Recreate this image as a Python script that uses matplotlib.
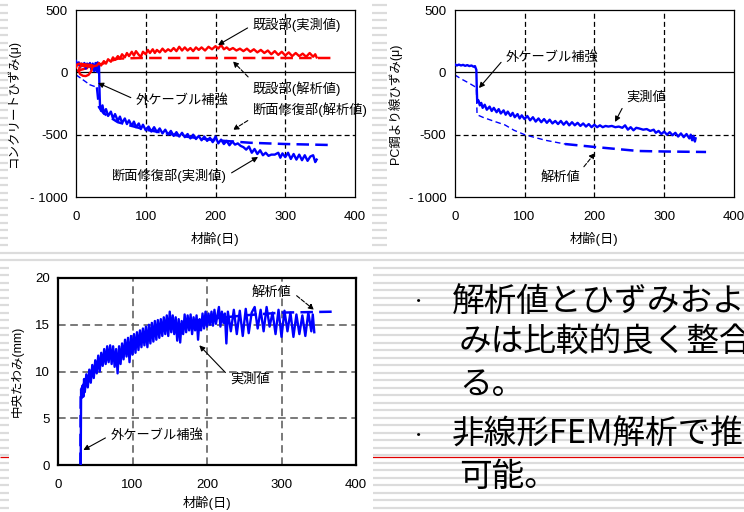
import numpy as np
import matplotlib
matplotlib.use("Agg")
import matplotlib.pyplot as plt
from matplotlib.patches import Rectangle

plt.rcParams['font.family'] = ['Liberation Sans', 'Noto Sans CJK JP']
plt.rcParams['axes.unicode_minus'] = False

BLUE = '#0000ff'
RED = '#ff0000'

# ---- 上左: コンクリートひずみ (day, μ)
existing_meas = [(0, 40), (2, 65), (5, 70), (10, 66), (15, 62), (20, 60), (24, 55), (22, 10), (18, -20),
                 (14, -30), (10, -28), (6, -15), (4, 10), (5, 40), (8, 55), (12, 50), (20, 45), (26, 50),
                 (30, 55), (33, 75), (36, 55), (40, 90), (43, 70), (46, 105), (50, 85), (53, 120), (56, 100),
                 (60, 130), (63, 110), (66, 145), (70, 120), (73, 155), (76, 130), (80, 165), (83, 135),
                 (86, 170), (90, 140), (93, 125), (96, 165), (100, 145), (103, 180), (106, 155), (110, 185),
                 (113, 155), (116, 180), (120, 160), (124, 190), (128, 165), (132, 185), (136, 170),
                 (140, 195), (144, 170), (148, 205), (152, 175), (156, 200), (160, 175), (164, 195),
                 (168, 170), (172, 200), (176, 180), (180, 200), (185, 175), (190, 205), (195, 185),
                 (200, 210), (204, 190), (208, 220), (212, 185), (216, 200), (220, 180), (225, 195),
                 (230, 175), (235, 190), (240, 170), (245, 190), (250, 165), (255, 185), (260, 160),
                 (265, 180), (270, 155), (275, 175), (280, 145), (285, 170), (290, 140), (295, 165),
                 (300, 135), (305, 160), (310, 130), (315, 155), (320, 130), (325, 150), (330, 125),
                 (335, 155), (340, 125), (343, 145), (345, 120)]
existing_calc = [(0, 10), (33, 60), (60, 110), (90, 115), (365, 115)]
repair_meas = [(0, 90), (2, 60), (4, 80), (6, 40), (8, 70), (10, 50), (12, 75), (14, 30), (16, 70), (18, 45),
               (20, 75), (22, 20), (24, 70), (26, 10), (28, 75), (30, 5), (31, 80), (32, 0), (33, 60),
               (33.5, -100), (34, -200), (34.5, -280), (36, -310), (38, -265), (40, -330), (43, -295),
               (46, -350), (50, -315), (53, -370), (56, -335), (60, -390), (63, -355), (66, -405),
               (70, -370), (73, -415), (76, -385), (80, -430), (83, -395), (86, -440), (90, -410),
               (93, -455), (96, -420), (100, -465), (104, -435), (108, -475), (112, -440), (116, -480),
               (120, -450), (124, -490), (128, -460), (132, -500), (136, -470), (140, -510), (144, -480),
               (148, -515), (152, -485), (156, -520), (160, -495), (164, -530), (168, -500), (172, -535),
               (176, -510), (180, -545), (184, -515), (188, -550), (192, -525), (196, -560), (200, -515),
               (204, -570), (208, -540), (212, -575), (216, -550), (220, -585), (224, -555), (228, -580),
               (232, -570), (236, -590), (240, -600), (244, -620), (248, -595), (252, -645), (256, -615),
               (260, -655), (264, -625), (268, -665), (272, -645), (276, -670), (280, -660), (285, -660),
               (290, -645), (293, -685), (296, -650), (300, -680), (304, -645), (308, -695), (312, -655),
               (316, -700), (320, -660), (324, -705), (328, -665), (332, -710), (336, -675), (340, -665),
               (343, -720), (345, -700)]
repair_calc = [(0, -20), (10, -60), (20, -100), (30, -120), (33, -280), (40, -330), (60, -400), (100, -460),
               (150, -510), (200, -545), (250, -565), (300, -575), (365, -583)]

# ---- 上右: PC鋼より線ひずみ (day, μ)
strand_meas = [(0, 65), (3, 55), (6, 62), (9, 55), (12, 60), (15, 52), (18, 58), (21, 50), (24, 55), (27, 45),
               (29, 50), (30, 35), (31, 20), (31.5, -100), (32, -200), (32.5, -240), (34, -225), (36, -265),
               (38, -245), (40, -285), (43, -260), (46, -300), (50, -275), (53, -310), (56, -285), (60, -320),
               (63, -295), (66, -330), (70, -305), (73, -340), (76, -315), (80, -350), (83, -325), (86, -360),
               (90, -335), (93, -370), (96, -345), (100, -375), (104, -350), (108, -385), (112, -360),
               (116, -395), (120, -370), (124, -400), (128, -375), (132, -405), (136, -380), (140, -410),
               (144, -390), (148, -415), (152, -390), (156, -420), (160, -395), (164, -425), (168, -400),
               (172, -425), (176, -405), (180, -430), (184, -410), (188, -435), (192, -415), (196, -440),
               (200, -420), (204, -440), (208, -425), (212, -440), (216, -430), (220, -435), (225, -430),
               (230, -440), (235, -435), (240, -445), (244, -425), (248, -460), (252, -440), (256, -465),
               (260, -445), (264, -450), (270, -460), (275, -455), (280, -470), (285, -460), (288, -485),
               (292, -470), (296, -495), (300, -475), (304, -500), (308, -480), (312, -505), (316, -485),
               (320, -515), (324, -490), (328, -520), (332, -495), (336, -530), (338, -500), (340, -545),
               (342, -510), (344, -555), (345, -530)]
strand_calc = [(0, -20), (10, -55), (20, -85), (29, -115), (31, -120), (32, -340), (40, -360), (55, -390),
               (72, -422), (85, -465), (101, -502), (130, -545), (158, -575), (201, -599), (263, -631),
               (300, -635), (360, -639)]

# ---- 下: 中央たわみ (day, mm)
defl_meas = [(30.5, 0), (30.8, 4), (31, 8), (32, 7.2), (33, 8.5), (34, 7.3), (35, 9.2), (36, 7.8), (38, 9.7),
             (40, 8.3), (42, 10.2), (44, 8.8), (46, 10.7), (48, 9.3), (50, 11.2), (52, 9.8), (54, 11.7),
             (56, 10), (58, 12), (60, 10.6), (62, 12.4), (64, 10.8), (66, 12.7), (68, 11), (70, 12.8),
             (72, 10.8), (74, 12.7), (76, 10.5), (78, 12.4), (80, 9.8), (82, 12.7), (84, 10.8), (86, 13),
             (88, 11.3), (90, 13.4), (92, 11.6), (94, 13.6), (96, 11), (98, 13.8), (100, 11.8), (102, 14),
             (104, 12), (106, 14.2), (108, 12.3), (110, 14.4), (112, 12.6), (114, 14.6), (116, 12.8),
             (118, 14.8), (120, 12.6), (122, 15), (124, 13), (126, 15.2), (128, 13.2), (130, 15.4),
             (132, 13.4), (134, 15.5), (136, 13.6), (138, 15.6), (140, 13.8), (142, 15.8), (144, 14),
             (146, 16), (148, 13.8), (150, 16.4), (152, 14.2), (154, 16), (156, 14), (158, 15.8), (160, 13.3),
             (162, 15.6), (164, 13.1), (166, 15.4), (168, 14), (170, 16.1), (172, 14.2), (174, 16),
             (176, 14.4), (178, 16.1), (180, 14), (182, 15.8), (184, 14.4), (186, 16), (188, 13.4),
             (190, 15.6), (192, 14.4), (194, 16.2), (196, 14.6), (198, 16.4), (200, 14.8), (202, 16.2),
             (204, 15), (206, 16.4), (208, 14.9), (210, 16.6), (212, 15.1), (214, 16), (216, 16.9),
             (218, 14.8), (220, 16.4), (222, 15.2), (224, 16.2), (226, 13), (228, 16.4), (232, 14.3),
             (236, 16.6), (240, 14), (244, 16.5), (248, 13.8), (252, 16.7), (256, 14.1), (260, 16.3),
             (264, 16.9), (268, 14.6), (272, 16.6), (276, 14.3), (280, 16.9), (284, 14.8), (288, 16.3),
             (292, 14), (296, 16.6), (300, 13.7), (304, 16.5), (308, 14.3), (312, 16.3), (316, 13.7),
             (320, 16.1), (324, 14), (328, 16), (332, 13.8), (336, 16.3), (340, 14.3), (342, 16.1),
             (344, 14.2)]
defl_calc = [(30, 0), (30.5, 8), (40, 9.5), (60, 11), (100, 13), (150, 14.8), (200, 15.6), (250, 16),
             (300, 16.3), (372, 16.4)]

x_ticks = [0, 100, 200, 300, 400]
strain_ticks = [-1000, -500, 0, 500]
strain_labels = ['- 1000', '-500', '0', '500']
defl_ticks = [0, 5, 10, 15, 20]

bullets = ["解析値とひずみおよ", "みは比較的良く整合", "る。", "非線形FEM解析で推", "可能。"]


def xy(pairs):
    a = np.array(pairs, dtype=float)
    return a[:, 0], a[:, 1]


def note(ax, text, tip, pos, relpos, dashed=False):
    ax.annotate(text, xy=tip, xytext=pos, ha='center', va='center', fontsize=9.5,
                annotation_clip=False,
                arrowprops=dict(arrowstyle='-|>', color='k', lw=0.8, ls='--' if dashed else '-',
                                mutation_scale=8, relpos=relpos, shrinkA=2, shrinkB=0))


def base_axes(ax, ylabel, label_x, xlabel_y=-0.185):
    ax.set_xlim(0, 400)
    ax.set_xticks(x_ticks)
    ax.tick_params(length=0, labelsize=9.5)
    ax.tick_params(axis='x', pad=10)
    ax.tick_params(axis='y', pad=6)
    ax.set_xlabel('材齢(日)', fontsize=9.5, va='top')
    ax.xaxis.set_label_coords(0.5, xlabel_y)
    ax.set_ylabel(ylabel, fontsize=9)
    ax.yaxis.set_label_coords(label_x, 0.5)


def strain_axes(ax, ylabel, label_x):
    base_axes(ax, ylabel, label_x)
    ax.set_ylim(-1000, 500)
    ax.set_yticks(strain_ticks)
    ax.set_yticklabels(strain_labels)
    for v in (100, 200, 300):
        ax.axvline(v, color='k', lw=0.9, ls=(0, (4, 2.5)), zorder=1)
    ax.axhline(-500, color='k', lw=0.9, ls=(0, (4, 2.5)), zorder=1)
    ax.axhline(0, color='k', lw=0.9, zorder=1)
    for s in ax.spines.values():
        s.set_linewidth(0.9)


fig = plt.figure(figsize=(7.44, 5.12), dpi=100)

# slide background
bg = fig.add_axes([0, 0, 1, 1], zorder=-5)
bg.set_xlim(0, 744)
bg.set_ylim(512, 0)
bg.axis('off')
bg.hlines(np.arange(5, 512, 7.5), 0, 744, color='#dcdcdc', lw=1.6)
bg.hlines(457, 0, 744, color='#e00000', lw=0.9)
for r in [(8, 0, 364, 248), (387, 0, 357, 248), (9, 263, 364, 249)]:
    bg.add_patch(Rectangle(r[:2], r[2], r[3], facecolor='white', edgecolor='none', zorder=3))
for y in (302, 435):
    bg.text(419, y, '・', fontsize=11, ha='center', va='center', family='Noto Sans CJK JP', zorder=4)
for txt, x, y in zip(bullets, [452, 459, 459, 452, 459], [302, 342, 385, 435, 477]):
    bg.text(x, y, txt, fontsize=23.5, ha='left', va='center', family='Noto Sans CJK JP', zorder=4)

# top-left
ax1 = fig.add_axes([76 / 744, 1 - 197 / 512, 279 / 744, 187 / 512])
strain_axes(ax1, 'コンクリートひずみ(μ)', -0.199)
d, v = xy(repair_calc)
ax1.plot(d[d <= 30], v[d <= 30], color=BLUE, lw=1.0, ls=(0, (4, 2)), zorder=2)
ax1.plot(d[d >= 30], v[d >= 30], color=BLUE, lw=1.8, ls=(0, (5, 2.5)), zorder=2)
d, v = xy(existing_calc)
ax1.plot(d, v, color=RED, lw=1.8, ls=(0, (5, 2.5)), zorder=2)
d, v = xy(repair_meas)
ax1.plot(d, v, color=BLUE, lw=1.7, zorder=3)
d, v = xy(existing_meas)
ax1.plot(d, v, color=RED, lw=1.7, zorder=3)
note(ax1, '既設部(実測値)', (203.6, 219), (316.8, 380), (0, 0.5))
note(ax1, '既設部(解析値)', (225, 88), (316.8, -134), (0, 1), dashed=True)
note(ax1, '断面修復部(解析値)', (225, -462), (336, -302), (0, 0), dashed=True)
note(ax1, '外ケーブル補強', (31.5, -85), (152.7, -222), (0, 0.5))
note(ax1, '断面修復部(実測値)', (261, -679), (133.3, -831), (1, 0.5))

# top-right
ax2 = fig.add_axes([454.7 / 744, 1 - 197 / 512, 279.3 / 744, 187 / 512])
strain_axes(ax2, 'PC鋼より線ひずみ(μ)', -0.187)
d, v = xy(strand_calc)
ax2.plot(d[d <= 158], v[d <= 158], color=BLUE, lw=1.0, ls=(0, (4, 2.5)), zorder=2)
ax2.plot(d[d >= 158], v[d >= 158], color=BLUE, lw=1.8, ls=(0, (5, 2.5)), zorder=2)
d, v = xy(strand_meas)
ax2.plot(d, v, color=BLUE, lw=1.7, zorder=3)
note(ax2, '外ケーブル補強', (34.8, -126), (139.4, 123), (0, 0.5))
note(ax2, '実測値', (229.6, -398), (274, -198), (0, 0.2))
note(ax2, '解析値', (201, -647), (150.8, -848), (1, 1), dashed=True)

# bottom
ax3 = fig.add_axes([58 / 744, 1 - 465 / 512, 298 / 744, 187 / 512])
base_axes(ax3, '中央たわみ(mm)', -0.114, xlabel_y=-0.168)
ax3.set_ylim(0, 20)
ax3.set_yticks(defl_ticks)
for v in (100, 200, 300):
    ax3.axvline(v, color='#555555', lw=1.1, ls=(0, (5, 3)), zorder=1)
for v in (5, 10, 15):
    ax3.axhline(v, color='#555555', lw=1.1, ls=(0, (5, 3)), zorder=1)
for s in ax3.spines.values():
    s.set_linewidth(1.6)
d, v = xy(defl_calc)
ax3.plot(d, v, color=BLUE, lw=1.8, ls=(0, (5, 2.5)), zorder=2)
d, v = xy(defl_meas)
ax3.plot(d, v, color=BLUE, lw=1.7, zorder=3)
note(ax3, '解析値', (343.6, 16.6), (287, 18.4), (1, 0.6), dashed=True)
note(ax3, '実測値', (189.7, 12.8), (257.7, 9.1), (0, 0.7))
note(ax3, '外ケーブル補強', (34, 1.6), (132.9, 3.2), (0, 0.5))

fig.savefig('out.png', dpi=100)
